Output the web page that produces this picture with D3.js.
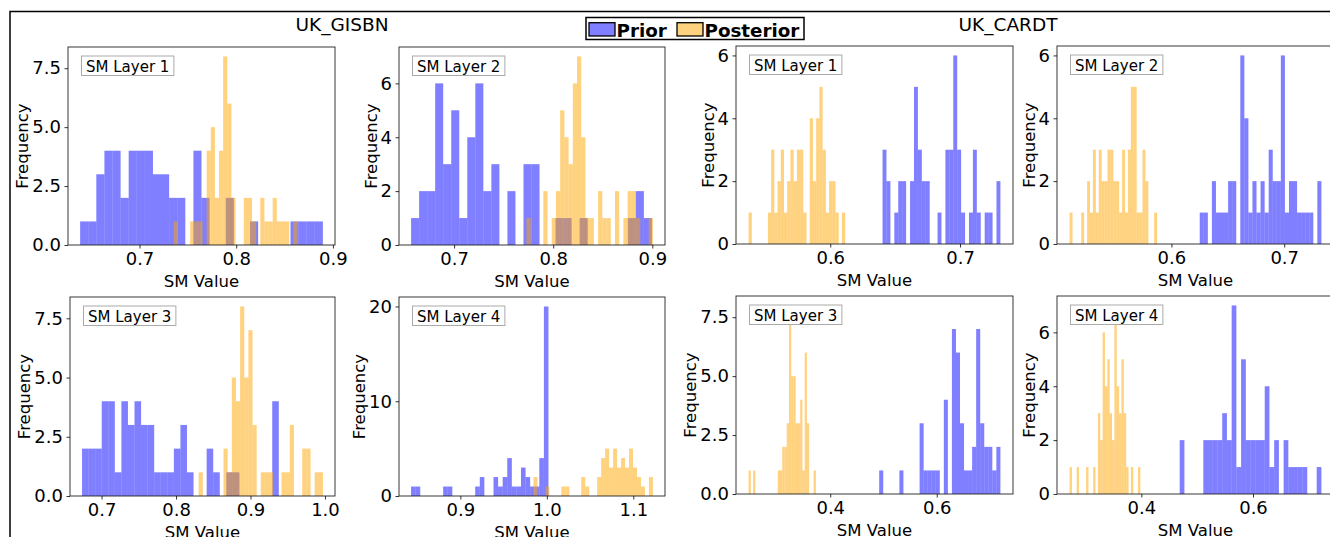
<!DOCTYPE html>
<html>
<head>
<meta charset="utf-8">
<script src="https://cdn.jsdelivr.net/npm/d3@7"></script>
<style>
  body { margin: 0; background: #fff; }
  text { font-family: "DejaVu Sans", sans-serif; }
</style>
</head>
<body>
<svg id="chart" width="1330" height="537"></svg>
<script>
// histogram counts (30 equal bins) and the [min, max] of each sample
var gisbnL1Prior = [1,1,3,4,4,2,4,4,4,3,3,2,2,0,4,2,0,0,2,0,0,1,0,0,0,0,1,1,1,1];
var gisbnL1PriorRange = [0.6386, 0.8896];
var gisbnL1Post = [1,0,0,0,1,1,1,0,4,5,2,4,8,6,2,0,0,2,2,1,0,2,1,1,2,1,1,1,0,1];
var gisbnL1PostRange = [0.7353, 0.8633];

var gisbnL2Prior = [1,2,2,6,3,5,1,4,6,2,3,0,2,0,3,3,0,0,1,1,0,1,0,0,0,0,0,1,2,1];
var gisbnL2PriorRange = [0.6566, 0.8996];
var gisbnL2Post = [1,0,0,0,2,0,1,2,5,4,3,6,7,4,1,1,0,2,1,1,0,2,0,1,2,2,1,0,0,1];
var gisbnL2PostRange = [0.773, 0.9006];

var gisbnL3Prior = [2,2,2,4,4,1,4,3,4,3,3,1,1,1,2,3,1,0,0,2,1,0,1,1,0,0,0,0,0,4];
var gisbnL3PriorRange = [0.6738, 0.938];
var gisbnL3Post = [1,0,0,0,0,0,2,1,5,4,8,5,7,3,0,1,1,1,0,0,1,1,3,0,0,2,2,0,1,1];
var gisbnL3PostRange = [0.8304, 0.9973];

var gisbnL4Prior = [1,1,0,0,0,0,0,1,1,0,0,0,0,0,1,2,0,0,2,1,2,4,1,1,3,2,1,1,4,20];
var gisbnL4PriorRange = [0.843, 1.0019];
var gisbnL4Post = [2,0,0,1,0,0,0,1,1,0,0,0,2,1,0,0,2,4,5,3,5,3,4,3,5,3,2,1,0,2];
var gisbnL4PostRange = [0.9846, 1.1227];

var cardtL1Prior = [3,2,0,1,2,2,0,2,5,3,2,2,0,0,1,0,3,3,6,3,1,0,1,3,1,0,1,1,0,2];
var cardtL1PriorRange = [0.6403, 0.7311];
var cardtL1Post = [1,0,0,0,0,0,1,3,1,2,3,1,2,3,2,3,3,1,0,4,2,4,5,3,1,2,2,1,0,1];
var cardtL1PostRange = [0.5371, 0.6115];

var cardtL2Prior = [1,1,0,2,1,1,1,2,2,0,6,4,1,2,1,2,1,3,2,2,6,1,2,2,1,1,1,1,0,2];
var cardtL2PriorRange = [0.6251, 0.733];
var cardtL2Post = [1,0,0,0,1,0,2,1,3,1,3,2,2,3,3,2,2,1,3,1,3,5,5,1,1,3,2,0,0,1];
var cardtL2PostRange = [0.5097, 0.5873];

var cardtL3Prior = [1,0,0,0,0,1,0,0,0,0,3,1,1,1,1,0,4,0,7,6,3,1,1,2,7,3,2,2,1,2];
var cardtL3PriorRange = [0.4919, 0.7195];
var cardtL3Post = [1,0,1,0,0,0,0,0,0,0,0,0,0,1,1,2,2,3,8,5,5,3,3,4,1,6,3,0,0,1];
var cardtL3PostRange = [0.2467, 0.3731];

var cardtL4Prior = [2,0,0,0,0,2,2,2,2,3,2,7,1,5,2,2,2,2,4,1,2,0,2,1,1,1,1,0,0,1];
var cardtL4PriorRange = [0.4687, 0.7225];
var cardtL4Post = [1,0,0,1,0,0,0,1,0,0,1,0,3,2,6,4,5,3,2,7,4,3,5,3,1,0,1,0,0,1];
var cardtL4PostRange = [0.2715, 0.3982];

// tick labels
var ticksQuarter = [0, 2.5, 5, 7.5];
var ticksEven = [0, 2, 4, 6];
var ticksTens = [0, 10, 20];
var gisbnXTicksA = [0.7, 0.8, 0.9];
var gisbnXTicksB = [0.7, 0.8, 0.9, 1.0];
var gisbnXTicksC = [0.9, 1.0, 1.1];
var cardtXTicksA = [0.6, 0.7];
var cardtXTicksB = [0.4, 0.6];

var groupTitles = ["UK_GISBN", "UK_CARDT"];
var seriesNames = ["Prior", "Posterior"];

var priorColor = "rgba(0,0,255,0.5)";
var postColor = "rgba(255,165,0,0.5)";

var panels = [
  {label: "SM Layer 1", prior: gisbnL1Prior, priorRange: gisbnL1PriorRange, post: gisbnL1Post, postRange: gisbnL1PostRange, xt: gisbnXTicksA, yt: ticksQuarter, box: [68, 47, 335, 245]},
  {label: "SM Layer 2", prior: gisbnL2Prior, priorRange: gisbnL2PriorRange, post: gisbnL2Post, postRange: gisbnL2PostRange, xt: gisbnXTicksA, yt: ticksEven, box: [399, 47, 665, 245]},
  {label: "SM Layer 3", prior: gisbnL3Prior, priorRange: gisbnL3PriorRange, post: gisbnL3Post, postRange: gisbnL3PostRange, xt: gisbnXTicksB, yt: ticksQuarter, box: [70, 297, 335, 496]},
  {label: "SM Layer 4", prior: gisbnL4Prior, priorRange: gisbnL4PriorRange, post: gisbnL4Post, postRange: gisbnL4PostRange, xt: gisbnXTicksC, yt: ticksTens, box: [399, 297, 665, 496]},
  {label: "SM Layer 1", prior: cardtL1Prior, priorRange: cardtL1PriorRange, post: cardtL1Post, postRange: cardtL1PostRange, xt: cardtXTicksA, yt: ticksEven, box: [736, 46, 1013, 244]},
  {label: "SM Layer 2", prior: cardtL2Prior, priorRange: cardtL2PriorRange, post: cardtL2Post, postRange: cardtL2PostRange, xt: cardtXTicksA, yt: ticksEven, box: [1057, 46, 1334, 244]},
  {label: "SM Layer 3", prior: cardtL3Prior, priorRange: cardtL3PriorRange, post: cardtL3Post, postRange: cardtL3PostRange, xt: cardtXTicksB, yt: ticksQuarter, box: [736, 296, 1013, 494]},
  {label: "SM Layer 4", prior: cardtL4Prior, priorRange: cardtL4PriorRange, post: cardtL4Post, postRange: cardtL4PostRange, xt: cardtXTicksB, yt: ticksEven, box: [1057, 296, 1334, 494]}
];

var svg = d3.select("#chart");

// outer frame (top and left edges only)
svg.append("path").attr("d", "M10,537V11.5H1330")
   .attr("fill", "none").attr("stroke", "#000").attr("stroke-width", 1.5);

// group titles
svg.selectAll("text.group").data(groupTitles).enter().append("text")
   .attr("class", "group")
   .attr("x", function(d, i){ return i === 0 ? 342 : 1008; })
   .attr("y", 31)
   .attr("text-anchor", "middle")
   .attr("font-size", 18.5)
   .text(function(d){ return d; });

// legend
var leg = svg.append("g");
leg.append("rect").attr("x", 586).attr("y", 17.5).attr("width", 218).attr("height", 22)
   .attr("fill", "#fff").attr("stroke", "#000").attr("stroke-width", 1.5);
var legX = [589, 677];
seriesNames.forEach(function(name, i){
  leg.append("rect").attr("x", legX[i]).attr("y", 22.7).attr("width", 26).attr("height", 13.3)
     .attr("fill", i === 0 ? priorColor : postColor).attr("stroke", "#000").attr("stroke-width", 1.3);
  leg.append("text").attr("x", legX[i] + 27.5).attr("y", 36.5)
     .attr("font-size", 18.3).attr("font-weight", "bold").text(name);
});

panels.forEach(function(p){
  var left = p.box[0], top = p.box[1], right = p.box[2], bottom = p.box[3];
  var lo = Math.min(p.priorRange[0], p.postRange[0]);
  var hi = Math.max(p.priorRange[1], p.postRange[1]);
  var pad = (hi - lo) * 0.05;
  var maxCount = d3.max(p.prior.concat(p.post));

  var x = d3.scaleLinear().domain([lo - pad, hi + pad]).range([left, right]);
  var y = d3.scaleLinear().domain([0, maxCount * 1.05]).range([bottom, top]);

  var g = svg.append("g");

  function drawHist(counts, range, color){
    var w = (range[1] - range[0]) / counts.length;
    var bins = counts.map(function(c, i){ return {x0: range[0] + i * w, x1: range[0] + (i + 1) * w, c: c}; })
                     .filter(function(b){ return b.c > 0; });
    g.append("g").selectAll("rect").data(bins).enter().append("rect")
     .attr("x", function(b){ return x(b.x0); })
     .attr("width", function(b){ return x(b.x1) - x(b.x0); })
     .attr("y", function(b){ return y(b.c); })
     .attr("height", function(b){ return y(0) - y(b.c); })
     .attr("fill", color);
  }
  drawHist(p.prior, p.priorRange, priorColor);
  drawHist(p.post, p.postRange, postColor);

  // spines
  g.append("rect").attr("x", left).attr("y", top).attr("width", right - left).attr("height", bottom - top)
   .attr("fill", "none").attr("stroke", "#222").attr("stroke-width", 0.9);

  var yFmt = p.yt.some(function(v){ return v % 1 !== 0; }) ? d3.format(".1f") : d3.format("d");

  var xAxis = g.append("g").attr("transform", "translate(0," + bottom + ")")
    .call(d3.axisBottom(x).tickValues(p.xt).tickFormat(d3.format(".1f")).tickSize(3.5).tickPadding(3.5));
  var yAxis = g.append("g").attr("transform", "translate(" + left + ",0)")
    .call(d3.axisLeft(y).tickValues(p.yt).tickFormat(yFmt).tickSize(3.5).tickPadding(3.5));

  [xAxis, yAxis].forEach(function(a){
    a.attr("font-size", 18).attr("font-family", "DejaVu Sans, sans-serif");
    a.select(".domain").remove();
    a.selectAll(".tick line").attr("stroke", "#000").attr("stroke-width", 0.8);
    a.selectAll(".tick text").attr("fill", "#000");
  });

  var maxW = 0;
  yAxis.selectAll(".tick text").each(function(){ maxW = Math.max(maxW, this.getComputedTextLength()); });

  g.append("text")
   .attr("transform", "translate(" + (left - maxW - 11) + "," + ((top + bottom) / 2) + ") rotate(-90)")
   .attr("text-anchor", "middle").attr("font-size", 16.5).text("Frequency");

  g.append("text").attr("x", (left + right) / 2).attr("y", bottom + 42)
   .attr("text-anchor", "middle").attr("font-size", 16.5).text("SM Value");

  // panel tag
  var tag = g.append("g");
  var tagText = tag.append("text").attr("x", left + 18).attr("y", top + 24.5)
    .attr("font-size", 15).text(p.label);
  var tw = tagText.node().getComputedTextLength();
  tag.insert("rect", "text").attr("x", left + 13.5).attr("y", top + 9).attr("width", tw + 9).attr("height", 19.5)
     .attr("fill", "#fff").attr("stroke", "#aaa").attr("stroke-width", 1);
});
</script>
</body>
</html>
